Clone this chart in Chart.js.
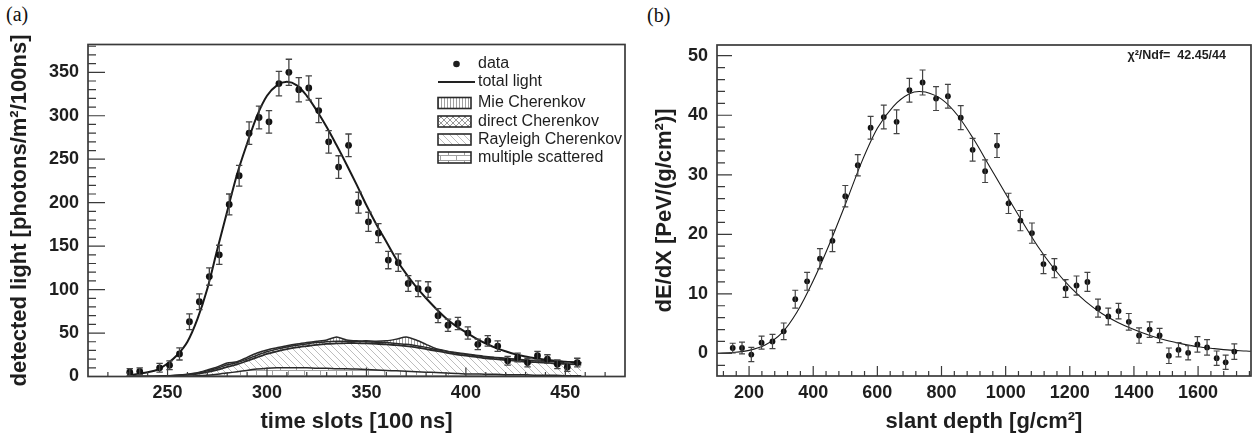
<!DOCTYPE html>
<html>
<head>
<meta charset="utf-8">
<script src="https://cdn.jsdelivr.net/npm/chart.js@4.4.1/dist/chart.umd.min.js"></script>
<style>
html, body { margin: 0; padding: 0; background: #fff; }
#wrap { position: relative; width: 1255px; height: 438px; overflow: hidden; }
canvas { position: absolute; top: 0; }
#cA { left: 0; }
#cB { left: 635px; }
.tag { position: absolute; font-family: "Liberation Serif", serif; font-size: 20px; color: #111; }
</style>
</head>
<body>
<div id="wrap">
  <div class="tag" style="left:6px; top:3px;">(a)</div>
  <div class="tag" style="left:647px; top:4px;">(b)</div>
  <canvas id="cA" width="640" height="438"></canvas>
  <canvas id="cB" width="620" height="438"></canvas>
</div>
<script>
// ---- (a) detected light vs time ----
const timeSlots = [231, 236, 246, 251, 256, 261, 266, 271, 276, 281, 286, 291, 296, 301, 306, 311, 316, 321, 326, 331, 336, 341, 346, 351, 356, 361, 366, 371, 376, 381, 386, 391, 396, 401, 406, 411, 416, 421, 426, 431, 436, 441, 446, 451, 456];
const lightData = [5, 6, 10, 13, 26, 63, 86, 115, 140, 198, 231, 280, 298, 293, 337, 350, 330, 332, 306, 270, 241, 266, 200, 178, 165, 134, 131, 107, 101, 100, 70, 59, 61, 50, 37, 41, 35, 18, 22, 16, 24, 20, 14, 11, 16];
const lightErr = [4, 4, 5, 5, 7, 9, 9, 10, 11, 12, 12, 13, 13, 13, 14, 15, 14, 14, 14, 13, 13, 13, 12, 11, 11, 10, 10, 9, 9, 9, 8, 7, 7, 7, 6, 6, 6, 5, 5, 5, 5, 5, 5, 5, 5];

const fitSlots = [230, 235, 240, 245, 250, 255, 260, 265, 270, 275, 280, 285, 290, 295, 300, 305, 310, 315, 320, 325, 330, 335, 340, 345, 350, 355, 360, 365, 370, 375, 380, 385, 390, 395, 400, 405, 410, 415, 420, 425, 430, 435, 440, 445, 450, 455, 458];
const totalLight = [1.5, 3, 5, 8, 15, 25, 40, 66, 101, 146, 190, 233, 268, 300, 323, 335, 339, 335, 323, 306, 287, 266, 244, 221, 197, 175, 155, 135, 118, 103, 90, 78, 67, 58, 51, 44, 38, 33, 29, 25.5, 23, 21, 19.5, 18, 17, 16, 15.5];
// upper edges of the stacked light components
const multiScattered = [0, 0, 0, 0, 0, 0, 0.3, 0.8, 1.5, 2.5, 4, 5.5, 7, 8.5, 9.5, 10, 10, 10, 10, 9.5, 9.5, 9, 9, 8.5, 8, 7.5, 7, 6.5, 6, 5.5, 5, 4.5, 4, 3.5, 3, 3, 2.5, 2.5, 2, 2, 2, 1.5, 1.5, 1.5, 1, 1, 1];
const rayleighTop = [0, 0, 0, 0.2, 0.5, 1, 1.8, 3, 5, 7.5, 11, 14, 18, 22, 26, 29, 31.5, 33.5, 35, 36.5, 37.5, 38, 38.5, 38.5, 38, 37.5, 37, 36, 35, 33.5, 31.5, 29.5, 27.5, 25.5, 24, 22.5, 21, 20, 19, 18, 17, 16.5, 16, 15, 14.5, 14, 13.5];
const directTop = [0, 0, 0, 0.3, 0.7, 1.3, 2.3, 3.8, 6.5, 9.5, 13.5, 16, 20, 24.5, 28.5, 31.5, 34, 36, 37.5, 39, 40, 40.5, 40.5, 40.5, 40, 39.5, 39, 38, 37, 35.5, 33.5, 31, 29, 27, 25.5, 24, 22.5, 21.5, 20.5, 19.5, 18.5, 18, 17.5, 17, 16.5, 16, 15.5];
const mieTop = [0, 0, 0, 0.3, 0.8, 1.5, 2.6, 4.2, 7.5, 11, 15.5, 17, 22, 27, 30.5, 33, 35.5, 37.5, 39, 40.5, 42, 45.5, 42, 41, 41, 40.5, 41, 43, 45.5, 42, 37, 32, 29.5, 27.5, 26, 24.5, 23, 22, 21, 20, 19, 18.5, 18, 17.5, 17, 16.5, 16];

const xTicksA = [250, 300, 350, 400, 450];
const yTicksA = [0, 50, 100, 150, 200, 250, 300, 350];

// ---- (b) energy deposit vs slant depth ----
const depth = [149, 178, 207, 239, 273, 308, 344, 381, 421, 460, 500, 539, 579, 620, 660, 700, 741, 783, 820, 860, 897, 936, 973, 1009, 1046, 1082, 1118, 1152, 1187, 1221, 1255, 1288, 1320, 1352, 1384, 1416, 1449, 1480, 1509, 1539, 1569, 1598, 1628, 1658, 1686, 1713];
const dEdX = [0.9, 0.9, -0.2, 1.8, 2.0, 3.7, 9.1, 12.1, 15.9, 18.9, 26.4, 31.6, 37.9, 39.7, 38.9, 44.2, 45.5, 42.8, 43.2, 39.6, 34.2, 30.6, 34.9, 25.2, 22.3, 20.2, 15.0, 14.3, 10.9, 11.4, 12.0, 7.6, 6.2, 7.1, 5.3, 3.0, 4.0, 3.0, -0.4, 0.6, 0.1, 1.5, 1.0, -0.8, -1.5, 0.3];
const dEdXErr = [0.8, 1.0, 1.2, 1.1, 1.2, 1.4, 1.5, 1.5, 1.7, 1.8, 1.8, 1.8, 1.9, 2.0, 2.0, 2.0, 2.1, 2.0, 2.0, 2.0, 1.9, 1.9, 2.0, 1.7, 1.7, 1.7, 1.6, 1.6, 1.5, 1.6, 1.6, 1.5, 1.4, 1.3, 1.4, 1.3, 1.3, 1.2, 1.3, 1.2, 1.2, 1.3, 1.3, 1.2, 1.2, 1.3];

const fitDepth = [100, 150, 200, 250, 300, 350, 400, 450, 500, 550, 600, 650, 700, 730, 750, 800, 850, 900, 950, 1000, 1050, 1100, 1150, 1200, 1250, 1300, 1350, 1400, 1450, 1500, 1550, 1600, 1650, 1700, 1750, 1765];
const fitdEdX = [0, 0.15, 0.5, 1.4, 3.3, 7.0, 12.2, 18.3, 25.0, 32.0, 37.8, 41.5, 43.6, 44.0, 43.9, 42.7, 40.0, 36.0, 31.4, 26.8, 22.3, 18.0, 14.3, 11.2, 8.7, 6.7, 5.2, 4.0, 3.0, 2.2, 1.6, 1.1, 0.8, 0.55, 0.4, 0.35];

const xTicksB = [200, 400, 600, 800, 1000, 1200, 1400, 1600];
const yTicksB = [0, 10, 20, 30, 40, 50];

const FONT = 'Liberation Sans, Arial, sans-serif';
const INK = '#1e1e1e';

const pts = (xs, ys) => xs.map((x, i) => ({ x: x, y: ys[i] }));

// hatch patterns for the component fills
function makePattern(w, h, color, draw) {
    const c = document.createElement('canvas');
    c.width = w; c.height = h;
    const g = c.getContext('2d');
    g.fillStyle = '#fff';
    g.fillRect(0, 0, w, h);
    g.strokeStyle = color;
    g.lineWidth = 1;
    draw(g, w, h);
    return g.createPattern(c, 'repeat');
}
const patMie = makePattern(3, 4, '#a0a0a0', (g, w, h) => {
    g.beginPath(); g.moveTo(0.5, 0); g.lineTo(0.5, h); g.stroke();
});
const patDirect = makePattern(6, 6, '#999', (g) => {
    g.beginPath(); g.moveTo(0, 0); g.lineTo(6, 6); g.moveTo(6, 0); g.lineTo(0, 6); g.stroke();
});
const patRayleigh = makePattern(7, 7, '#bdbdbd', (g) => {
    g.beginPath(); g.moveTo(0, 0); g.lineTo(7, 7); g.moveTo(-1, 6); g.lineTo(1, 8); g.moveTo(6, -1); g.lineTo(8, 1); g.stroke();
});
const patMulti = makePattern(16, 10, '#a0a0a0', (g) => {
    g.beginPath();
    g.moveTo(0, 0.5); g.lineTo(16, 0.5);
    g.moveTo(0, 5.5); g.lineTo(16, 5.5);
    g.moveTo(0.5, 0); g.lineTo(0.5, 5.5);
    g.moveTo(8.5, 5.5); g.lineTo(8.5, 10);
    g.stroke();
});

// inward ticks + frame, drawn from the chart scales
const frameTicks = {
    id: 'frameTicks',
    afterDatasetsDraw(chart, args, o) {
        const { ctx, chartArea: a } = chart;
        const x = chart.scales.x, y = chart.scales.y;
        ctx.save();
        ctx.strokeStyle = '#3a3a3a';
        ctx.lineWidth = 1.2;
        ctx.beginPath();
        for (let i = 0; ; i++) {
            const v = o.xFrom + i * o.xStep;
            if (v > x.max) break;
            const px = x.getPixelForValue(v);
            if (px < a.left + 1 || px > a.right - 1) continue;
            const len = o.xMajor.includes(v) ? o.xMajorLen : o.xMinorLen;
            ctx.moveTo(px, a.bottom); ctx.lineTo(px, a.bottom - len);
        }
        for (let i = 0; ; i++) {
            const v = o.yFrom + i * o.yStep;
            if (v > y.max) break;
            const py = y.getPixelForValue(v);
            if (py > a.bottom - 1 || py < a.top + 1) continue;
            const len = o.yMajor.includes(v) ? o.yMajorLen : o.yMinorLen;
            ctx.moveTo(a.left, py); ctx.lineTo(a.left + len, py);
        }
        ctx.stroke();
        ctx.lineWidth = 1.7;
        ctx.strokeRect(a.left, a.top, a.right - a.left, a.bottom - a.top);
        ctx.restore();
    }
};

// vertical error bars with caps for dataset 0
const errorBars = {
    id: 'errorBars',
    afterDatasetsDraw(chart, args, o) {
        const { ctx, chartArea: a } = chart;
        const ds = chart.data.datasets[0];
        const meta = chart.getDatasetMeta(0);
        const y = chart.scales.y;
        ctx.save();
        ctx.beginPath();
        ctx.rect(a.left, a.top, a.right - a.left, a.bottom - a.top);
        ctx.clip();
        ctx.strokeStyle = '#444';
        ctx.lineWidth = o.width;
        ctx.beginPath();
        ds.data.forEach((p, i) => {
            const e = ds.errors[i];
            const px = meta.data[i].x;
            const y1 = y.getPixelForValue(p.y + e);
            const y2 = y.getPixelForValue(p.y - e);
            ctx.moveTo(px, y1); ctx.lineTo(px, y2);
            ctx.moveTo(px - o.cap, y1); ctx.lineTo(px + o.cap, y1);
            ctx.moveTo(px - o.cap, y2); ctx.lineTo(px + o.cap, y2);
        });
        ctx.stroke();
        ctx.restore();
    }
};

const legendA = {
    id: 'legendA',
    afterDraw(chart) {
        const ctx = chart.ctx;
        ctx.save();
        ctx.font = '16px ' + FONT;
        ctx.fillStyle = INK;
        ctx.textBaseline = 'middle';
        ctx.fillText('data', 478, 64);
        ctx.beginPath(); ctx.arc(456.5, 64, 3.3, 0, Math.PI * 2); ctx.fill();
        ctx.fillText('total light', 478, 82);
        ctx.strokeStyle = '#222'; ctx.lineWidth = 2;
        ctx.beginPath(); ctx.moveTo(438, 82); ctx.lineTo(475, 82); ctx.stroke();
        const rows = [
            ['Mie Cherenkov', patMie, 103],
            ['direct Cherenkov', patDirect, 121.5],
            ['Rayleigh Cherenkov', patRayleigh, 139.5],
            ['multiple scattered', patMulti, 157.5]
        ];
        rows.forEach(r => {
            ctx.fillStyle = r[1];
            ctx.fillRect(438, r[2] - 5.5, 33, 11);
            ctx.strokeStyle = '#2a2a2a'; ctx.lineWidth = 1.6;
            ctx.strokeRect(438, r[2] - 5.5, 33, 11);
            ctx.fillStyle = INK;
            ctx.fillText(r[0], 478, r[2]);
        });
        ctx.restore();
    }
};

const chiText = {
    id: 'chiText',
    afterDraw(chart) {
        const { ctx, chartArea: a } = chart;
        ctx.save();
        ctx.font = 'bold 12.5px ' + FONT;
        ctx.fillStyle = INK;
        ctx.textAlign = 'right';
        ctx.textBaseline = 'middle';
        ctx.fillText('\u03c7\u00b2/Ndf=  42.45/44', a.right - 25, a.top + 11);
        ctx.restore();
    }
};

function axes(o) {
    const tickFont = { family: FONT, size: 18, weight: 'bold' };
    const titleFont = { family: FONT, size: 22, weight: 'bold', lineHeight: 1.2 };
    return {
        x: {
            type: 'linear', min: o.xmin, max: o.xmax,
            afterFit: s => { s.height = o.xh; },
            afterBuildTicks: s => { s.ticks = o.xticks.map(v => ({ value: v })); },
            grid: { display: false, drawTicks: false },
            border: { display: false },
            ticks: { font: tickFont, color: INK, padding: 6, maxRotation: 0, autoSkip: false,
                     callback: v => String(v) },
            title: { display: true, text: o.xtitle, font: titleFont, color: INK, padding: { top: 0, bottom: 3 } }
        },
        y: {
            type: 'linear', min: o.ymin, max: o.ymax,
            afterFit: s => { s.width = o.yw; },
            afterBuildTicks: s => { s.ticks = o.yticks.map(v => ({ value: v })); },
            grid: { display: false, drawTicks: false },
            border: { display: false },
            ticks: { font: tickFont, color: INK, padding: 9, autoSkip: false, callback: v => String(v) },
            title: { display: true, text: o.ytitle, font: titleFont, color: INK, padding: { top: o.ytpad, bottom: 0 } }
        }
    };
}

new Chart(document.getElementById('cA'), {
    type: 'line',
    data: {
        datasets: [
            { label: 'data', data: pts(timeSlots, lightData), errors: lightErr, showLine: false,
              pointRadius: 3.4, pointBackgroundColor: '#111', pointBorderWidth: 0 },
            { label: 'total light', data: pts(fitSlots, totalLight), borderColor: '#1a1a1a', borderWidth: 2,
              pointRadius: 0, tension: 0.35, fill: false },
            { label: 'multiple scattered', data: pts(fitSlots, multiScattered), borderColor: '#2a2a2a', borderWidth: 1.5,
              pointRadius: 0, tension: 0.2, fill: 'origin', backgroundColor: patMulti },
            { label: 'Rayleigh Cherenkov', data: pts(fitSlots, rayleighTop), borderColor: '#2a2a2a', borderWidth: 1.8,
              pointRadius: 0, tension: 0.2, fill: 2, backgroundColor: patRayleigh },
            { label: 'direct Cherenkov', data: pts(fitSlots, directTop), borderColor: '#2a2a2a', borderWidth: 1.5,
              pointRadius: 0, tension: 0.2, fill: 3, backgroundColor: patDirect },
            { label: 'Mie Cherenkov', data: pts(fitSlots, mieTop), borderColor: '#2a2a2a', borderWidth: 1.5,
              pointRadius: 0, tension: 0.2, fill: 4, backgroundColor: patMie }
        ]
    },
    options: {
        responsive: false,
        animation: false,
        devicePixelRatio: 1,
        layout: { padding: { left: 0, right: 15, top: 44.5, bottom: 0 } },
        scales: axes({
            xmin: 210, xmax: 480, xh: 61.5, xticks: xTicksA, xtitle: 'time slots [100 ns]',
            ymin: 0, ymax: 382, yw: 88, yticks: yTicksA, ytitle: 'detected light [photons/m\u00b2/100ns]', ytpad: 7
        }),
        plugins: {
            legend: { display: false },
            tooltip: { enabled: false },
            errorBars: { cap: 3.2, width: 1.3 },
            frameTicks: { xFrom: 210, xStep: 10, xMajor: xTicksA, xMajorLen: 9, xMinorLen: 4.5,
                          yFrom: 0, yStep: 10, yMajor: yTicksA, yMajorLen: 17, yMinorLen: 8 }
        }
    },
    plugins: [frameTicks, errorBars, legendA]
});

new Chart(document.getElementById('cB'), {
    type: 'line',
    data: {
        datasets: [
            { label: 'data', data: pts(depth, dEdX), errors: dEdXErr, showLine: false,
              pointRadius: 2.9, pointBackgroundColor: '#111', pointBorderWidth: 0 },
            { label: 'fit', data: pts(fitDepth, fitdEdX), borderColor: '#1a1a1a', borderWidth: 1.1,
              pointRadius: 0, cubicInterpolationMode: 'monotone', fill: false }
        ]
    },
    options: {
        responsive: false,
        animation: false,
        devicePixelRatio: 1,
        layout: { padding: { left: 0, right: 2, top: 45, bottom: 0 } },
        scales: axes({
            xmin: 100, xmax: 1765, xh: 62, xticks: xTicksB, xtitle: 'slant depth [g/cm\u00b2]',
            ymin: -3.8, ymax: 51.8, yw: 82, yticks: yTicksB, ytitle: 'dE/dX [PeV/(g/cm\u00b2)]', ytpad: 17
        }),
        plugins: {
            legend: { display: false },
            tooltip: { enabled: false },
            errorBars: { cap: 3, width: 1.2 },
            frameTicks: { xFrom: 120, xStep: 40, xMajor: xTicksB, xMajorLen: 10, xMinorLen: 5,
                          yFrom: -2, yStep: 2, yMajor: yTicksB, yMajorLen: 15, yMinorLen: 8 }
        }
    },
    plugins: [frameTicks, errorBars, chiText]
});
</script>
</body>
</html>
